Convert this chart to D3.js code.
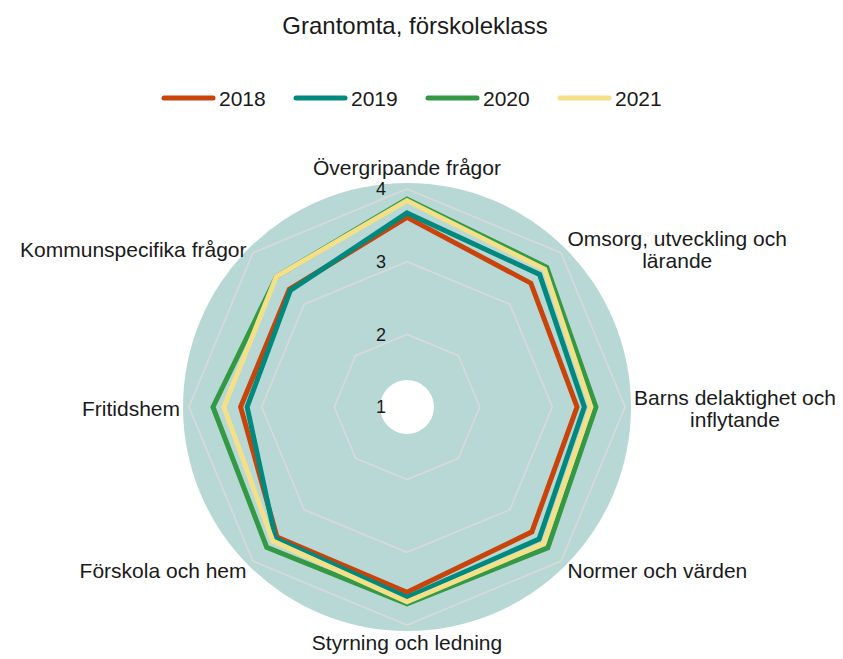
<!DOCTYPE html>
<html>
<head>
<meta charset="utf-8">
<script src="https://cdn.jsdelivr.net/npm/d3@7"></script>
<style>
  body { margin: 0; background: #fff; }
  text { font-family: "Liberation Sans", Arial, sans-serif; fill: #1a1a1a; }
</style>
</head>
<body>
<script>
// axes, clockwise from the top
const categories = [
  'Övergripande frågor',
  'Omsorg, utveckling och lärande',
  'Barns delaktighet och inflytande',
  'Normer och värden',
  'Styrning och ledning',
  'Förskola och hem',
  'Fritidshem',
  'Kommunspecifika frågor'
];
const labelLines = [
  ['Övergripande frågor'],
  ['Omsorg, utveckling och', 'lärande'],
  ['Barns delaktighet och', 'inflytande'],
  ['Normer och värden'],
  ['Styrning och ledning'],
  ['Förskola och hem'],
  ['Fritidshem'],
  ['Kommunspecifika frågor']
];
const years = ['2018', '2019', '2020', '2021'];
const values2018 = [3.61, 3.41, 3.34, 3.43, 3.55, 3.53, 3.29, 3.29];
const values2019 = [3.67, 3.58, 3.44, 3.57, 3.62, 3.56, 3.20, 3.27];
const values2020 = [3.86, 3.72, 3.60, 3.74, 3.71, 3.73, 3.67, 3.54];
const values2021 = [3.84, 3.68, 3.53, 3.66, 3.68, 3.61, 3.52, 3.54];
const ticks = [1, 2, 3, 4];
const colors = ['#c8440a', '#00897e', '#339944', '#f5e08a'];

const series = years.map((y, i) => ({
  year: y,
  color: colors[i],
  values: [values2018, values2019, values2020, values2021][i]
}));

const width = 843, height = 659;
const cx = 407, cy = 407;

const svg = d3.select('body').append('svg')
  .attr('width', width)
  .attr('height', height);

svg.append('text')
  .attr('x', 415).attr('y', 34)
  .attr('text-anchor', 'middle')
  .style('font-size', '24px')
  .text('Grantomta, förskoleklass');

// legend
const legend = svg.append('g').attr('transform', 'translate(162,98)');
const legendItem = legend.selectAll('g')
  .data(series)
  .enter().append('g')
  .attr('transform', (d, i) => 'translate(' + (i * 132) + ',0)');
legendItem.append('line')
  .attr('x1', 2).attr('x2', 51)
  .attr('stroke', d => d.color)
  .attr('stroke-width', 5)
  .attr('stroke-linecap', 'round');
legendItem.append('text')
  .attr('x', 57).attr('y', 8)
  .style('font-size', '21px')
  .text(d => d.year);

const r = d3.scaleLinear().domain([1, 4]).range([0, 218]);
const angle = d3.scaleLinear().domain([0, categories.length]).range([0, 2 * Math.PI]);

const chart = svg.append('g').attr('transform', 'translate(' + cx + ',' + cy + ')');

chart.append('circle').attr('r', 224).attr('fill', '#b7d8d4');
chart.append('circle').attr('r', 27).attr('fill', '#fff');

const radial = d3.lineRadial()
  .angle((d, i) => angle(i))
  .radius(d => r(d))
  .curve(d3.curveLinearClosed);

// grid
chart.selectAll('.grid')
  .data(ticks.filter(t => t > 1))
  .enter().append('path')
  .attr('class', 'grid')
  .attr('d', t => radial(categories.map(() => t)))
  .attr('fill', 'none')
  .attr('stroke', '#d9d9d9')
  .attr('stroke-width', 1.75);

// series
chart.selectAll('.series')
  .data(series)
  .enter().append('path')
  .attr('class', 'series')
  .attr('d', d => radial(d.values))
  .attr('fill', 'none')
  .attr('stroke', d => d.color)
  .attr('stroke-width', 5)
  .attr('stroke-linejoin', 'miter');

// tick labels
chart.selectAll('.tick')
  .data(ticks)
  .enter().append('text')
  .attr('class', 'tick')
  .attr('x', -21)
  .attr('y', t => -r(t))
  .attr('dy', '0.35em')
  .attr('text-anchor', 'end')
  .style('font-size', '18px')
  .text(t => t);

// category labels
const labelR = 227, lineH = 22;
const labels = chart.selectAll('.label')
  .data(labelLines)
  .enter().append('text')
  .attr('class', 'label')
  .style('font-size', '21px')
  .attr('text-anchor', 'middle');

labels.each(function(lines, i) {
  const a = angle(i);
  const sx = Math.sin(a), cyy = -Math.cos(a);
  const px = labelR * sx, py = labelR * cyy;
  const t = d3.select(this);
  t.selectAll('tspan').data(lines).enter().append('tspan').text(d => d);
  let w = 0;
  t.selectAll('tspan').each(function() { w = Math.max(w, this.getComputedTextLength()); });
  let x = px;
  if (sx > 0.1) x = px + w / 2;
  else if (sx < -0.1) x = px - w / 2;
  const n = lines.length;
  let y0;
  if (cyy < -0.9) y0 = py - 5 - (n - 1) * lineH;
  else if (cyy > 0.9) y0 = py + 16;
  else y0 = py + (Math.abs(cyy) > 0.5 ? 10 : 9) - (n - 1) * lineH / 2;
  t.selectAll('tspan')
    .attr('x', x)
    .attr('y', (d, k) => y0 + k * lineH);
});
</script>
</body>
</html>
